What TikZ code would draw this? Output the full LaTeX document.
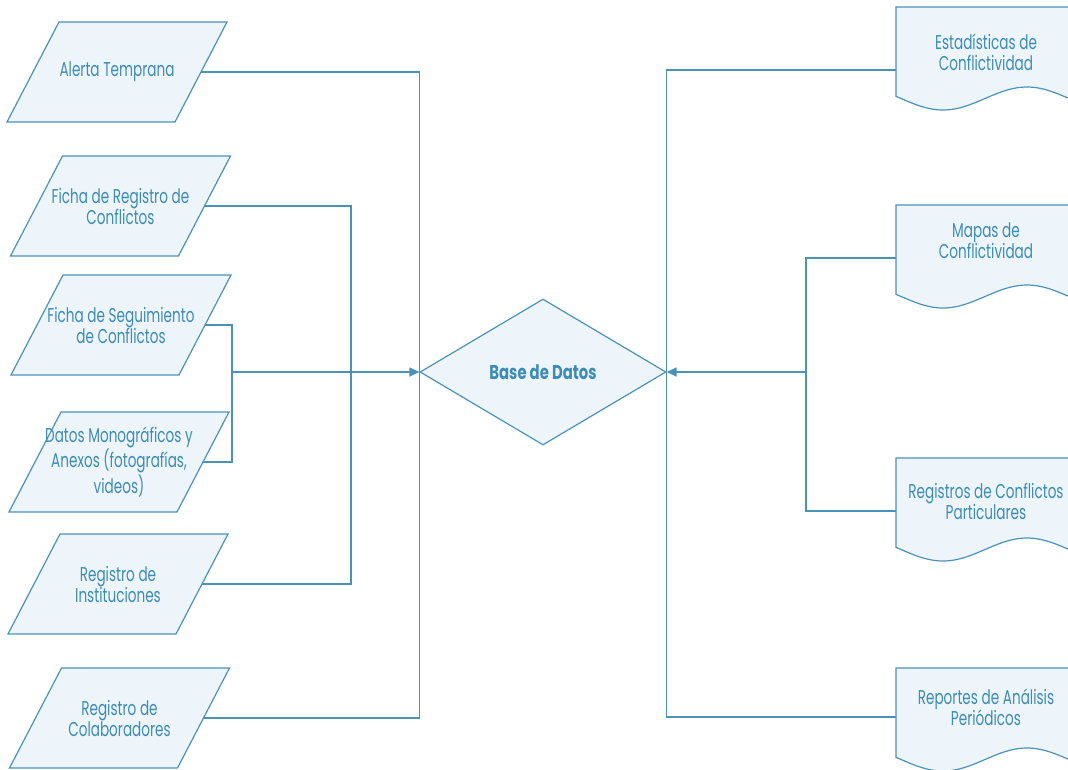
\documentclass[tikz,border=0pt]{standalone}
\usepackage{fontspec}
\setmainfont{Poppins}[FakeStretch=0.68]
\newfontfamily\boldfam{Poppins}[FakeStretch=0.74]
\usetikzlibrary{shapes.geometric,arrows.meta}
\definecolor{lc}{HTML}{4A92BC}
\definecolor{tc}{HTML}{3D8CB8}
\definecolor{fc}{HTML}{EDF5FB}
\tikzset{
  boxline/.style={draw=lc, line width=1.2pt, fill=fc},
  conn/.style={draw=lc, line width=1.2pt},
  arr/.style={conn, -{Triangle[length=10pt,width=9pt]}},
  lbl/.style={text=tc, font=\fontsize{20}{21}\selectfont, align=center, inner sep=0pt},
}
% parallelogram input: name, cx, cy, text
\newcommand{\inpara}[4]{%
  \draw[boxline] ({#2-58},{#3-50}) -- ({#2+110},{#3-50}) -- ({#2+58},{#3+50}) -- ({#2-110},{#3+50}) -- cycle;
  \node[lbl] (#1) at (#2,#3) {#4};
  \coordinate (#1-r) at ({#2+84},#3);
}
% document output: name, top y, connector y, text y, text
\newcommand{\outdoc}[5]{%
  \draw[boxline] (896,#2) -- (1095,#2) -- plot[variable=\t,domain=1095:896,samples=80,smooth] (\t,{#2+91.5+11.5*cos((\t-943)/84*180)}) -- cycle;
  \node[lbl] (#1) at (986,#4) {#5};
  \coordinate (#1-l) at (896,#3);
}
\begin{document}
\begin{tikzpicture}[x=1pt,y=-1pt]
\useasboundingbox (0,0) rectangle (1068,769);
% inputs
\inpara{alerta}{117}{72}{Alerta Temprana}
\inpara{fichareg}{120.5}{206}{Ficha de Registro de\\Conflictos}
\inpara{fichaseg}{121}{325}{Ficha de Seguimiento\\de Conflictos}
\inpara{datos}{119}{462}{Datos Monográficos y\\Anexos (fotografías,\\videos)}
\inpara{inst}{118}{584}{Registro de\\Instituciones}
\inpara{colab}{119.5}{718}{Registro de\\Colaboradores}
% central
\node[diamond, boxline, minimum width=246pt, minimum height=146pt, aspect=1.68, lbl,
      font=\fontsize{20}{21}\selectfont\boldfam\bfseries] (db) at (543,372) {Base de Datos};
% outputs
\outdoc{est}{7}{70}{52.5}{Estadísticas de\\Conflictividad}
\outdoc{mapas}{205}{258}{241}{Mapas de\\Conflictividad}
\outdoc{regs}{458}{511}{501.5}{Registros de Conflictos\\Particulares}
\outdoc{reps}{668}{717}{707.5}{Reportes de Análisis\\Periódicos}
% buses
\coordinate (busA) at (351,372);
\coordinate (busB) at (232,372);
\coordinate (busC) at (806,372);
% left connectors
\draw[conn] (alerta-r) -| (db.west);
\draw[conn] (colab-r) -| (db.west);
\draw[conn] (fichareg-r) -| (busA);
\draw[conn] (inst-r) -| (busA);
\draw[conn] (fichaseg-r) -| (busB);
\draw[conn] (datos-r) -| (busB);
\draw[arr] (busB) -- (db.west);
% right connectors
\draw[conn] (est-l) -| (db.east);
\draw[conn] (reps-l) -| (db.east);
\draw[conn] (mapas-l) -| (busC);
\draw[conn] (regs-l) -| (busC);
\draw[arr] (busC) -- (db.east);
\end{tikzpicture}
\end{document}
